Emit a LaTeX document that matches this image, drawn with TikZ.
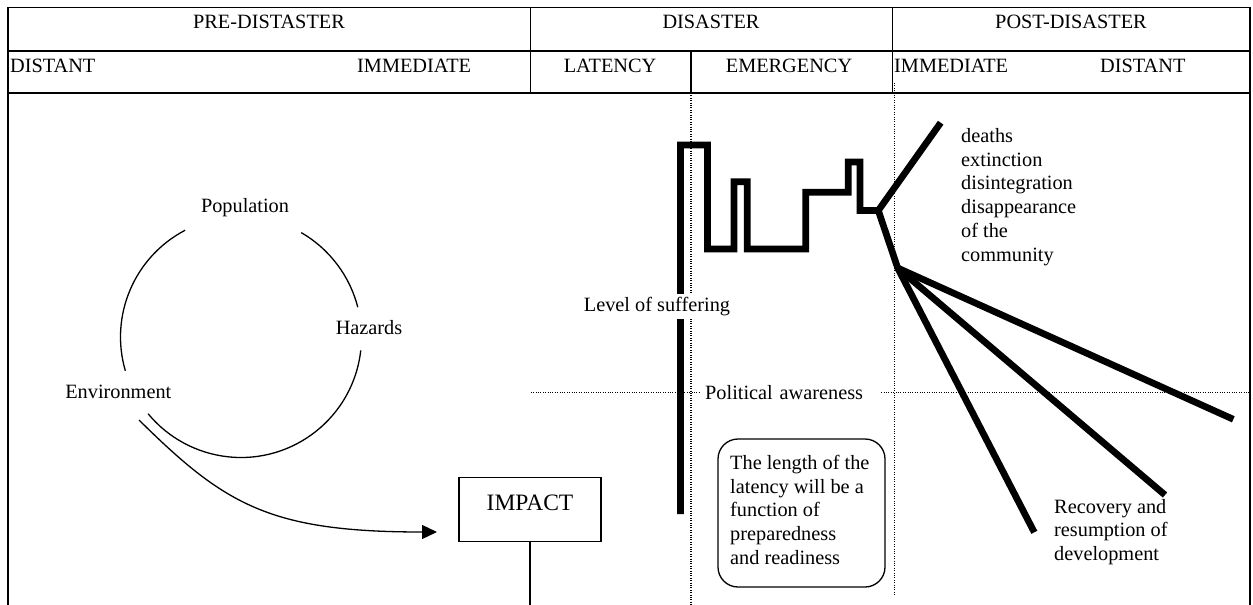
\documentclass[tikz,border=0pt]{standalone}
\usepackage{fontspec}
\setmainfont{Liberation Serif}
\usetikzlibrary{arrows.meta}
\newcommand\dfs{\fontsize{20.3}{23.8}\selectfont}
\newcommand\ifs{\fontsize{23.5}{27}\selectfont}
\begin{document}
\begin{tikzpicture}[x=1pt,y=-1pt,
  every node/.style={font=\dfs, inner sep=0pt},
  tbl/.style={line width=1.5pt},
  dots/.style={line width=1.2pt, dash pattern=on 1pt off 1.4pt},
  circ/.style={line width=1.3pt},
  sufline/.style={line width=6.7pt, line join=miter},
  notebox/.style={draw, line width=1.3pt, rounded corners=20pt, minimum width=167pt, minimum height=148pt},
  whitelbl/.style={fill=white, inner sep=3pt}
]
\useasboundingbox (0,0) rectangle (1253,605);
% table
\draw[tbl] (8,605) -- (8,7.3) -- (1250,7.3) -- (1250,605);
\draw[tbl] (8,51) -- (1250,51);
\draw[tbl] (8,93) -- (1250,93);
\draw[tbl] (530.7,7.3) -- (530.7,93);
\draw[tbl] (892.3,7.3) -- (892.3,93);
\draw[tbl] (691,51) -- (691,93);
\node[anchor=base] (pre) at (269,28.3) {PRE-DISTASTER};
\node[anchor=base] (dis) at (711,28.3) {DISASTER};
\node[anchor=base] (post) at (1071,28.3) {POST-DISASTER};
\node[anchor=base west] (d1) at (10,72) {DISTANT};
\node[anchor=base west] (i1) at (357,72) {IMMEDIATE};
\node[anchor=base] (lat) at (610,72) {LATENCY};
\node[anchor=base] (em) at (789,72) {EMERGENCY};
\node[anchor=base west] (i2) at (894,72) {IMMEDIATE};
\node[anchor=base west] (d2) at (1100,72) {DISTANT};
% dotted guides
\draw[dots] (691,93) -- (691,605);
\draw[dots] (894.3,83) -- (894.3,596);
\draw[dots] (530.7,392.5) -- (1250,392.5);
% cycle
\coordinate (cc) at (241,337);
\draw[circ] (cc) ++(-117.6:120.5) arc[start angle=-117.6,end angle=-196.3,radius=120.5];
\draw[circ] (cc) ++(-60:120.5) arc[start angle=-60,end angle=-14.3,radius=120.5];
\draw[circ] (cc) ++(6.4:120.5) arc[start angle=6.4,end angle=140.4,radius=120.5];
\node[anchor=base] (pop) at (245,212.5) {Population};
\node[anchor=base] (haz) at (369,334) {Hazards};
\node[anchor=base] (env) at (118.3,398) {Environment};
% impact
\node[draw, line width=1.3pt, font=\ifs, anchor=base, text height=32.7pt, text depth=31.7pt, minimum width=142pt] (impact) at (530,510) {IMPACT};
\coordinate (envout) at (139,420);
\coordinate (impin) at (437,532);
\draw[circ, -{Triangle[length=15pt,width=14pt]}] (envout) .. controls (225,505) and (270,532) .. (impin);
\coordinate (impbot) at (530,605);
\draw[circ] (impact.south) -- (impbot);
% suffering line
\coordinate (j1) at (878.3,210.5);
\coordinate (j2) at (897.7,268);
\coordinate (e0) at (940.7,122.7);
\coordinate (e1) at (1034.3,532.3);
\coordinate (e2) at (1165,495);
\coordinate (e3) at (1233.3,419.3);
\draw[sufline] (680.5,514) -- (680.5,145) -- (707.5,145) -- (707.5,249) -- (734,249) -- (734,181.7) -- (747.3,181.7) -- (747.3,249) -- (805.7,249) -- (805.7,192.3) -- (848.3,192.3) -- (848.3,162) -- (860,162) -- (860,210.5) -- (j1) -- (j2) -- (e1);
\draw[sufline] (j1) -- (e0);
\draw[sufline] (j2) -- (e2);
\draw[sufline] (j2) -- (e3);
\node[whitelbl, anchor=base] (suf) at (657,311.7) {Level of suffering};
\node[fill=white, inner xsep=4pt, inner ysep=2pt, anchor=base west, text width=171pt, align=left] (pol) at (701,399) {Political awareness};
% note
\node[notebox] (note) at (801.5,513) {};
\node[anchor=north west, align=left] (notetext) at (730,454.8) {The length of the\\latency will be a\\function of\\preparedness\\and readiness};
\node[anchor=north west, align=left] (fail) at (961,128.1) {deaths\\extinction\\disintegration\\disappearance\\of the\\community};
\node[anchor=north west, align=left] (recov) at (1054,498.9) {Recovery and\\resumption of\\development};
\end{tikzpicture}
\end{document}
